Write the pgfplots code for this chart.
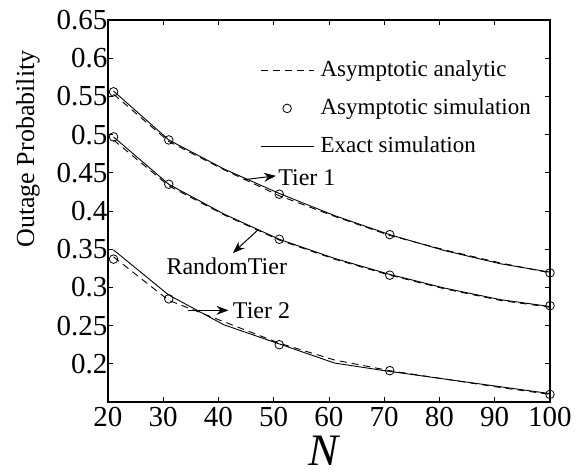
\documentclass[border=0pt]{standalone}
\usepackage{pgfplots}
\pgfplotsset{compat=1.18}
\usepackage{fontspec}
\setmainfont{Liberation Serif}
\usetikzlibrary{arrows.meta}
\begin{document}
\begin{tikzpicture}
\begin{axis}[
  name=ax,
  scale only axis,
  width=442pt, height=382pt,
  xmin=20, xmax=100, ymin=0.15, ymax=0.65,
  xtick={20,30,...,100},
  ytick={0.2,0.25,0.3,0.35,0.4,0.45,0.5,0.55,0.6,0.65},
  yticklabels={0.2,0.25,0.3,0.35,0.4,0.45,0.5,0.55,0.6,0.65},
  xticklabels={20,30,40,50,60,70,80,90,100},
  tick align=inside,
  major tick length=5pt,
  tick style={line width=0.8pt, black},
  axis line style={line width=1.2pt},
  ticklabel style={font=\fontsize{29}{30}\selectfont},
  xticklabel style={yshift=-2pt},
  yticklabel style={xshift=3pt},
  ylabel={Outage Probability},
  ylabel style={at={(axis description cs:-0.181,0.662)}, anchor=center, font=\fontsize{26}{28}\selectfont},
  xlabel={\textit{N}},
  xlabel style={at={(axis description cs:0.491,-0.127)}, anchor=center, inner sep=0pt, font=\fontsize{45}{46}\selectfont},
  clip=false,
  legend image code/.code={\draw[#1] (0pt,7pt) -- (53pt,7pt);},
  legend style={draw=none, fill=none, at={(rel axis cs:0.345,0.900)}, anchor=north west,
    font=\fontsize{23}{24}\selectfont, row sep=0pt, inner sep=0pt,
    nodes={text height=18pt, text depth=20pt, inner sep=0pt}},
  legend cell align=left,
]
\addlegendimage{black, line width=0.9pt, dash pattern=on 7pt off 5pt}
\addlegendentry{\hspace*{6pt}Asymptotic analytic}
\addlegendimage{legend image code/.code={\draw[black, line width=0.8pt] (26pt,7pt) circle (4.3pt);}}
\addlegendentry{\hspace*{6pt}Asymptotic simulation}
\addlegendimage{black, line width=0.9pt}
\addlegendentry{\hspace*{6pt}Exact simulation}

% Tier 1
\addplot[forget plot, black, line width=0.9pt] coordinates {(21,0.557)(31,0.493)(41,0.455)(51,0.423)(61,0.394)(71,0.369)(81,0.348)(91,0.331)(100,0.320)};
\addplot[forget plot, black, line width=0.9pt, dash pattern=on 7pt off 5pt] coordinates {(21,0.553)(31,0.491)(41,0.454)(51,0.420)(61,0.393)(71,0.368)(81,0.349)(91,0.332)(100,0.319)};
\addplot[forget plot, only marks, mark=o, mark size=4.3pt, mark options={line width=0.8pt}, black] coordinates {(21,0.556)(31,0.493)(51,0.422)(71,0.369)(100,0.319)};

% RandomTier
\addplot[forget plot, black, line width=0.9pt] coordinates {(21,0.497)(31,0.435)(41,0.396)(51,0.363)(61,0.338)(71,0.317)(81,0.299)(91,0.284)(100,0.275)};
\addplot[forget plot, black, line width=0.9pt, dash pattern=on 7pt off 5pt] coordinates {(21,0.493)(31,0.433)(41,0.395)(51,0.362)(61,0.337)(71,0.316)(81,0.298)(91,0.283)(100,0.274)};
\addplot[forget plot, only marks, mark=o, mark size=4.3pt, mark options={line width=0.8pt}, black] coordinates {(21,0.497)(31,0.435)(51,0.363)(71,0.316)(100,0.276)};

% Tier 2
\addplot[forget plot, black, line width=0.9pt] coordinates {(21,0.349)(31,0.290)(41,0.251)(51,0.226)(61,0.201)(71,0.190)(81,0.180)(91,0.170)(100,0.161)};
\addplot[forget plot, black, line width=0.9pt, dash pattern=on 7pt off 5pt] coordinates {(21,0.340)(31,0.283)(41,0.255)(51,0.227)(61,0.205)(71,0.191)(81,0.180)(91,0.169)(100,0.160)};
\addplot[forget plot, only marks, mark=o, mark size=4.3pt, mark options={line width=0.8pt}, black] coordinates {(21,0.337)(31,0.285)(51,0.225)(71,0.191)(100,0.160)};

% annotations
\draw[-{Stealth[length=12pt,width=9pt]}, line width=1pt] (axis cs:44.6,0.441) -- (axis cs:50.4,0.446);
\node[anchor=west, inner sep=1pt, font=\fontsize{24}{26}\selectfont] at (axis cs:50.6,0.444) {Tier 1};
\draw[-{Stealth[length=12pt,width=9pt]}, line width=1pt] (axis cs:47.1,0.375) -- (axis cs:42.6,0.345);
\node[anchor=center, inner sep=1pt, font=\fontsize{24}{26}\selectfont] at (axis cs:41.5,0.327) {RandomTier};
\draw[-{Stealth[length=12pt,width=9pt]}, line width=1pt] (axis cs:34.4,0.270) -- (axis cs:41.8,0.270);
\node[anchor=west, inner sep=1pt, font=\fontsize{24}{26}\selectfont] at (axis cs:42.4,0.270) {Tier 2};
\end{axis}
\path (-108pt,-73pt) rectangle (474pt,402pt);
\end{tikzpicture}
\end{document}
